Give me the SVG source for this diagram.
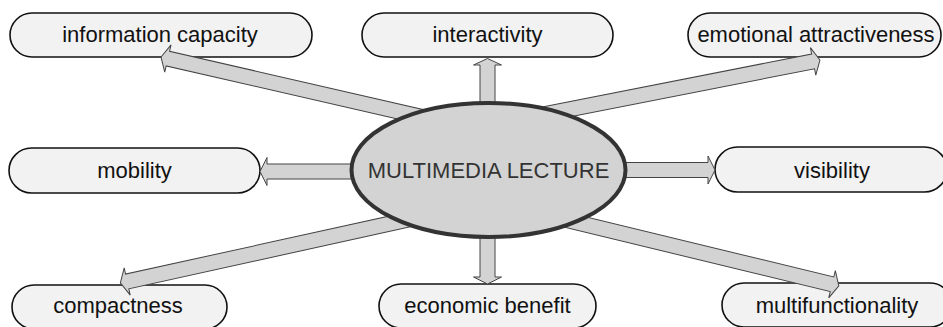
<svg xmlns="http://www.w3.org/2000/svg" width="943" height="327" viewBox="0 0 943 327">
<style>
.box{fill:#f2f2f2;stroke:#111;stroke-width:1.6}
.lbl{font-family:"Liberation Sans",Arial,sans-serif;font-size:22px;fill:#111;text-anchor:middle}
.arr{fill:#d3d3d3;stroke:#444;stroke-width:1}
.hub{fill:#d3d3d3;stroke:#333;stroke-width:4}
.hubt{font-family:"Liberation Sans",Arial,sans-serif;font-size:22px;fill:#333;text-anchor:middle}
</style>
<rect width="943" height="327" fill="#fff"/>
<g id="n-information-capacity"><rect class="box" x="10" y="13" width="302" height="44" rx="22"/><text class="lbl" x="160" y="42">information capacity</text></g>
<g id="n-interactivity"><rect class="box" x="362" y="13" width="251" height="44" rx="22"/><text class="lbl" x="487.5" y="42">interactivity</text></g>
<g id="n-emotional-attractiveness"><rect class="box" x="688" y="13" width="253" height="44" rx="22"/><text class="lbl" x="816" y="42">emotional attractiveness</text></g>
<g id="n-mobility"><rect class="box" x="9" y="148" width="251" height="45" rx="22.5"/><text class="lbl" x="134.5" y="178">mobility</text></g>
<g id="n-visibility"><rect class="box" x="715" y="147" width="232" height="45" rx="22.5"/><text class="lbl" x="832" y="178">visibility</text></g>
<g id="n-compactness"><rect class="box" x="12" y="285" width="215" height="44" rx="22"/><text class="lbl" x="118" y="313">compactness</text></g>
<g id="n-economic-benefit"><rect class="box" x="379" y="284" width="217" height="44" rx="22"/><text class="lbl" x="487.5" y="313">economic benefit</text></g>
<g id="n-multifunctionality"><rect class="box" x="722" y="283" width="230" height="44" rx="22"/><text class="lbl" x="837" y="313">multifunctionality</text></g>
<g id="connectors">
<polygon class="arr" transform="translate(470,128) rotate(-167.06)" points="0,-7.5 310,-7.5 310,-14 317,0 310,14 310,7.5 0,7.5"/>
<polygon class="arr" transform="translate(487.5,110) rotate(-90)" points="0,-7.5 45,-7.5 45,-14 51.5,0 45,14 45,7.5 0,7.5"/>
<polygon class="arr" transform="translate(505,122) rotate(-11.135)" points="0,-7.5 314,-7.5 314,-14 321,0 314,14 314,7.5 0,7.5"/>
<polygon class="arr" transform="translate(360,171.5) rotate(180)" points="0,-7.5 93,-7.5 93,-14 100,0 93,14 93,7.5 0,7.5"/>
<polygon class="arr" transform="translate(615,170) rotate(0)" points="0,-7.5 93,-7.5 93,-14 100,0 93,14 93,7.5 0,7.5"/>
<polygon class="arr" transform="translate(470,206) rotate(167.59)" points="0,-7.5 351,-7.5 351,-14 358,0 351,14 351,7.5 0,7.5"/>
<polygon class="arr" transform="translate(487.5,230) rotate(90)" points="0,-7.5 47,-7.5 47,-14 54,0 47,14 47,7.5 0,7.5"/>
<polygon class="arr" transform="translate(505,205) rotate(13.63)" points="0,-7.5 336.5,-7.5 336.5,-14 343.5,0 336.5,14 336.5,7.5 0,7.5"/>
</g>
<g id="n-multimedia-lecture"><ellipse class="hub" cx="488.5" cy="170" rx="137" ry="67"/><text class="hubt" x="488.5" y="178">MULTIMEDIA LECTURE</text></g>
</svg>
